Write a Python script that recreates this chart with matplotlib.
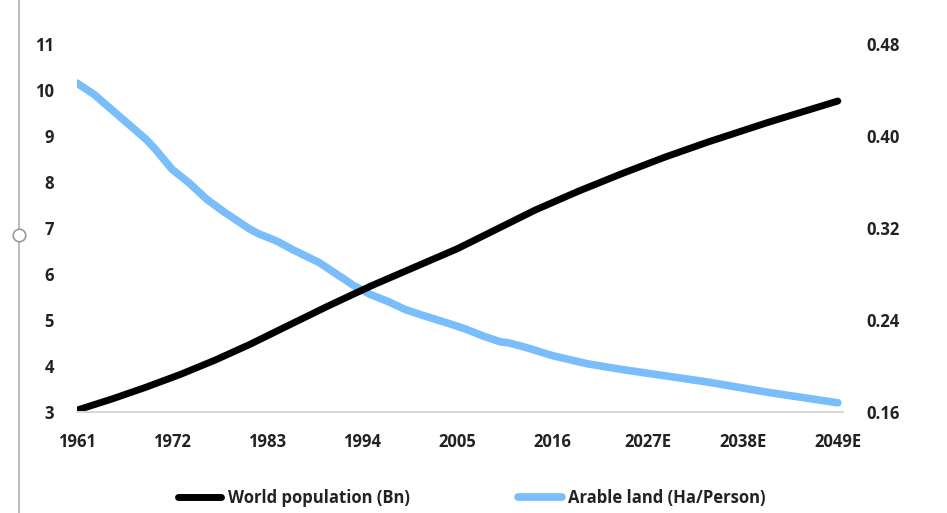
# World population vs arable land per person

import matplotlib.pyplot as plt
from matplotlib.lines import Line2D

pop_years = [1961, 1965, 1969, 1973, 1977, 1981, 1985, 1990, 1995, 2005,
             2014, 2019, 2024, 2029, 2034, 2041, 2049]
population = [3.04, 3.28, 3.54, 3.82, 4.13, 4.47, 4.84, 5.30, 5.74, 6.55,
              7.39, 7.80, 8.18, 8.54, 8.87, 9.30, 9.76]

land_years = [1961, 1963, 1965, 1967, 1969, 1970, 1972, 1974, 1976, 1978,
              1981, 1982, 1984, 1986, 1989, 1991, 1993, 1995, 1997, 1999,
              2001, 2004, 2006, 2008, 2010, 2011, 2013, 2016, 2020, 2024,
              2034, 2041, 2049]
arable = [0.446, 0.436, 0.423, 0.410, 0.397, 0.389, 0.371, 0.359, 0.345, 0.334,
          0.319, 0.315, 0.309, 0.301, 0.290, 0.280, 0.270, 0.262, 0.256, 0.249,
          0.244, 0.237, 0.232, 0.226, 0.221, 0.220, 0.216, 0.209, 0.202, 0.197,
          0.186, 0.177, 0.168]

tick_years = [1961, 1972, 1983, 1994, 2005, 2016, 2027, 2038, 2049]
tick_labels = ['1961', '1972', '1983', '1994', '2005', '2016', '2027E', '2038E', '2049E']
left_ticks = [3, 4, 5, 6, 7, 8, 9, 10, 11]
right_ticks = [0.16, 0.24, 0.32, 0.40, 0.48]

txt = '#222222'
blue = '#79bdfb'
plt.rcParams['font.family'] = ['Open Sans', 'DejaVu Sans']
plt.rcParams['font.weight'] = 'bold'

fig = plt.figure(figsize=(9.47, 5.13), dpi=100)
ax = fig.add_axes([77/947, 101/513, 766/947, 368/513])
ax2 = ax.twinx()

ax.plot(pop_years, population, color='black', lw=5, solid_capstyle='round',
        solid_joinstyle='round', label='World population (Bn)')
ax2.plot(land_years, arable, color=blue, lw=5.5, solid_capstyle='round',
         solid_joinstyle='round', label='Arable land (Ha/Person)')
ax.set_zorder(2)
ax.patch.set_visible(False)

ax.set_xlim(1961, 2049.6)
ax.set_ylim(3, 11)
ax2.set_ylim(0.16, 0.48)
ax.set_xticks(tick_years)
ax.set_xticklabels(tick_labels)
ax.set_yticks(left_ticks)
ax2.set_yticks(right_ticks)
ax2.set_yticklabels(['%.2f' % v for v in right_ticks])

for a in (ax, ax2):
    for s in a.spines.values():
        s.set_visible(False)
ax.spines['bottom'].set_visible(True)
ax.spines['bottom'].set_color('#d9d9d9')
ax.spines['bottom'].set_linewidth(1.5)

ax.tick_params(axis='x', length=0, pad=15, labelsize=12, colors=txt)
ax.tick_params(axis='y', length=0, pad=16.5, labelsize=12, colors=txt)
ax2.tick_params(axis='y', length=0, pad=16.5, labelsize=12, colors=txt)

h1, l1 = ax.get_legend_handles_labels()
h2, l2 = ax2.get_legend_handles_labels()
leg = fig.legend(h1 + h2, l1 + l2, loc='center', ncol=2, frameon=False,
                 bbox_to_anchor=(472/947, 1 - 498/513), fontsize=12,
                 handlelength=2.6, handletextpad=0.4, columnspacing=6.5)
for t in leg.get_texts():
    t.set_color(txt)

# page margin line with the little handle
fig.add_artist(Line2D([19/947, 19/947], [0, 1], color='#b0b0b0', lw=1.2))
fig.add_artist(Line2D([19/947], [1 - 235/513], marker='o', ms=9, mfc='white',
                      mec='#9a9a9a', mew=1.2, color='none'))

fig.savefig('out.png', dpi=100)
